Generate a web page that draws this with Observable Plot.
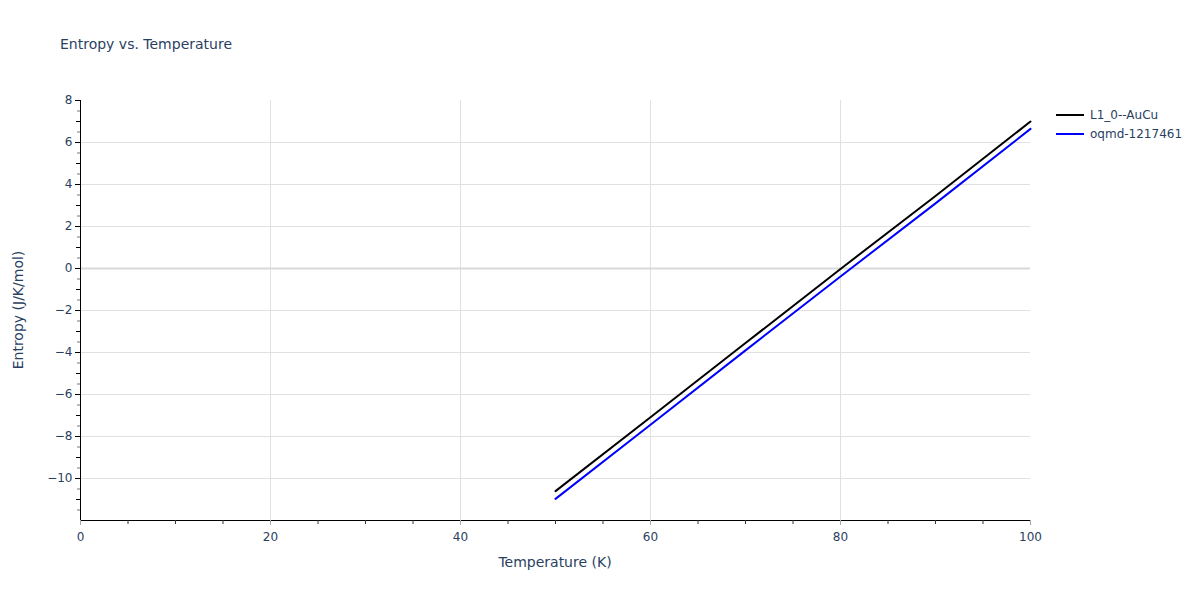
<!DOCTYPE html>
<html>
<head>
<meta charset="utf-8">
<script src="https://cdn.jsdelivr.net/npm/d3@7"></script>
<script src="https://cdn.jsdelivr.net/npm/@observablehq/plot@0.6"></script>
<style>
  body { margin: 0; background: #fff; font-family: "DejaVu Sans", Verdana, Arial, sans-serif; }
  #wrap { position: relative; width: 1200px; height: 600px; }
  .t { position: absolute; color: #2a3f5f; white-space: nowrap; }
  #title { left: 60px; top: 36px; font-size: 14px; }
  #xlab { left: 555px; top: 554px; font-size: 14px; transform: translateX(-50%); }
  #ylab { left: 18px; top: 310px; font-size: 14px; transform: translate(-50%, -50%) rotate(-90deg); }
  #legend { position: absolute; left: 1055px; top: 105px; font-size: 12px; color: #2a3f5f; }
  #legend div { height: 19px; display: flex; align-items: center; }
  #legend svg { margin-right: 5px; }
</style>
</head>
<body>
<div id="wrap">
  <div id="chart"></div>
  <div class="t" id="title">Entropy vs. Temperature</div>
  <div class="t" id="xlab">Temperature (K)</div>
  <div class="t" id="ylab">Entropy (J/K/mol)</div>
  <div id="legend"></div>
</div>
<script>
const temperatures = [50, 60, 70, 80, 90, 100];
const entropyL10AuCu = [-10.6, -7.08, -3.55, -0.02, 3.45, 7.0];
const entropyOqmd = [-10.97, -7.44, -3.9, -0.38, 3.1, 6.65];
const seriesNames = ["L1_0--AuCu", "oqmd-1217461"];
const seriesColors = ["#000000", "#0000ff"];
const xTickValues = [0, 20, 40, 60, 80, 100];
const yTickValues = [-10, -8, -6, -4, -2, 0, 2, 4, 6, 8];

const data = [];
temperatures.forEach((t, i) => {
  data.push({T: t, S: entropyL10AuCu[i], series: seriesNames[0]});
  data.push({T: t, S: entropyOqmd[i], series: seriesNames[1]});
});

const fmt = v => (v < 0 ? "\u2212" + Math.abs(v) : String(v));
const yMinorHalf = d3.range(-11.5, 8, 1);
const yMinorInt = d3.range(-11, 8, 1).filter(v => v % 2 !== 0);
const xMinor = d3.range(5, 100, 5).filter(v => v % 20 !== 0);

const chart = Plot.plot({
  width: 1200,
  height: 600,
  marginLeft: 80,
  marginRight: 170,
  marginTop: 100,
  marginBottom: 80,
  style: {fontFamily: '"DejaVu Sans", Verdana, Arial, sans-serif', fontSize: "12px", color: "#2a3f5f", background: "transparent"},
  x: {domain: [0, 100]},
  y: {domain: [-12, 8]},
  color: {domain: seriesNames, range: seriesColors},
  marks: [
    Plot.gridX(xTickValues.filter(v => v > 0 && v < 100), {stroke: "#e0e0e0", strokeOpacity: 1, strokeWidth: 1}),
    Plot.gridY(yTickValues.filter(v => v !== 0 && v < 8), {stroke: "#e0e0e0", strokeOpacity: 1, strokeWidth: 1}),
    Plot.ruleY([0], {stroke: "#d9d9d9", strokeWidth: 2}),
    Plot.line(data, {x: "T", y: "S", stroke: "series", z: "series", strokeWidth: 2}),
    Plot.ruleX([0], {stroke: "#000", strokeWidth: 1}),
    Plot.ruleY([-12], {stroke: "#000", strokeWidth: 1}),
    Plot.axisY(yMinorHalf, {tickSize: 3, stroke: "#777", text: null, label: null}),
    Plot.axisY(yMinorInt, {tickSize: 4, stroke: "#000", text: null, label: null}),
    Plot.axisY(yTickValues, {tickSize: 5, stroke: "#000", tickFormat: fmt, fill: "#2a3f5f", fontSize: 12, tickPadding: 3, label: null}),
    Plot.axisX(xMinor, {tickSize: 4, stroke: "#333", text: null, label: null}),
    Plot.axisX(xTickValues, {tickSize: 5, stroke: "#aaa", tickFormat: fmt, fill: "#2a3f5f", fontSize: 12, tickPadding: 7, label: null})
  ]
});
document.getElementById("chart").appendChild(chart);

const legend = document.getElementById("legend");
seriesNames.forEach((name, i) => {
  const row = document.createElement("div");
  row.innerHTML = `<svg width="30" height="4"><line x1="1" y1="2" x2="29" y2="2" stroke="${seriesColors[i]}" stroke-width="2"/></svg><span>${name}</span>`;
  legend.appendChild(row);
});
</script>
</body>
</html>
